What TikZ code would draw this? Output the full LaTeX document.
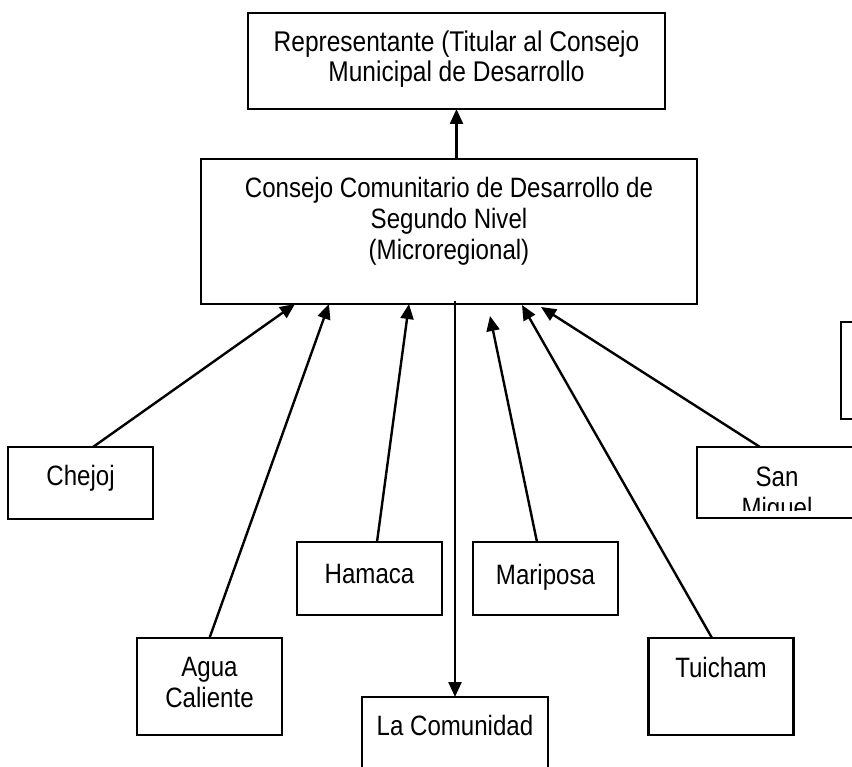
\documentclass[tikz,border=0pt]{standalone}
\usepackage{fontspec}
\setmainfont{Liberation Sans}
\newfontfamily\narrowfont{Liberation Sans}[FakeStretch=0.86]
\usetikzlibrary{arrows.meta,calc}
\begin{document}
\begin{tikzpicture}[x=1pt,y=-1pt,
  box/.style={draw, line width=2.2pt, inner sep=0pt, outer sep=0pt, minimum width=145pt},
  lbl/.style={anchor=north, inner sep=0pt, align=center, font=\narrowfont\fontsize{28}{31}\selectfont},
  arr/.style={line width=2.4pt, -{Triangle[length=15pt,width=13pt]}}]
\useasboundingbox (0,0) rectangle (852,767);
\clip (0,0) rectangle (852,767);
% boxes
\node[box, minimum width=417pt, minimum height=96pt] (top) at (456.5,61) {};
\node[box, minimum width=496pt, minimum height=145pt] (ccd) at (449,231.5) {};
\node[box, minimum height=72pt] (chejoj) at (80.5,483) {};
\node[box, minimum height=97pt] (agua) at (209.5,686.5) {};
\node[box, minimum height=73pt] (hamaca) at (369.5,578.5) {};
\node[box, minimum height=73pt] (mariposa) at (545.5,578.5) {};
\node[box, minimum width=186pt, minimum height=100pt] (comunidad) at (455,747) {};
\node[box, minimum height=97pt] (tuicham) at (721,686.5) {};
\node[box, minimum width=160pt, minimum height=71pt] (sanmiguel) at (777,482.5) {};
\node[box, minimum width=100pt, minimum height=97pt] (extra) at (891,370.5) {};
% labels
\node[lbl, font=\narrowfont\fontsize{28.5}{30}\selectfont] (toptext) at ($(top.north)+(0,18)$) {Representante (Titular al Consejo\\Municipal de Desarrollo};
\node[lbl] (ccdtext) at ($(ccd.north)+(0,18)$) {Consejo Comunitario de Desarrollo de\\Segundo Nivel\\(Microregional)};
\node[lbl] (chejojtext) at ($(chejoj.north)+(0,18)$) {Chejoj};
\node[lbl] (aguatext) at ($(agua.north)+(0,19)$) {Agua\\Caliente};
\node[lbl] (hamacatext) at ($(hamaca.north)+(0,22)$) {Hamaca};
\node[lbl] (mariposatext) at ($(mariposa.north)+(0,22)$) {Mariposa};
\node[lbl] (comunidadtext) at ($(comunidad.north)+(0,18)$) {La Comunidad};
\node[lbl] (tuichamtext) at ($(tuicham.north)+(0,19)$) {Tuicham};
\begin{scope}
\clip (sanmiguel.north west) rectangle (857,510);
\node[lbl] (sanmigueltext) at ($(sanmiguel.north)+(0,20)$) {San\\Miguel};
\end{scope}
% tip points on the council box
\coordinate (tchejoj) at (295,304);
\coordinate (tagua) at (329,304);
\coordinate (thamaca) at (409,304);
\coordinate (tmariposa) at (490,316);
\coordinate (ttuicham) at (522,305);
\coordinate (tsan) at (541,307);
% connectors
\draw[arr] (ccd.north -| top.south) -- (top.south);
\draw[arr] ($(chejoj.north)+(12.5,0)$) -- (tchejoj);
\draw[arr] (agua.north) -- (tagua);
\draw[arr] ($(hamaca.north)+(7.5,0)$) -- (thamaca);
\draw[arr] ($(ccd.south -| comunidad.north)+(0,-3)$) -- (comunidad.north);
\draw[arr] ($(mariposa.north)+(-8.5,0)$) -- (tmariposa);
\draw[arr] ($(tuicham.north)+(-9,0)$) -- (ttuicham);
\draw[arr] ($(sanmiguel.north)+(-17,0)$) -- (tsan);
\end{tikzpicture}
\end{document}
